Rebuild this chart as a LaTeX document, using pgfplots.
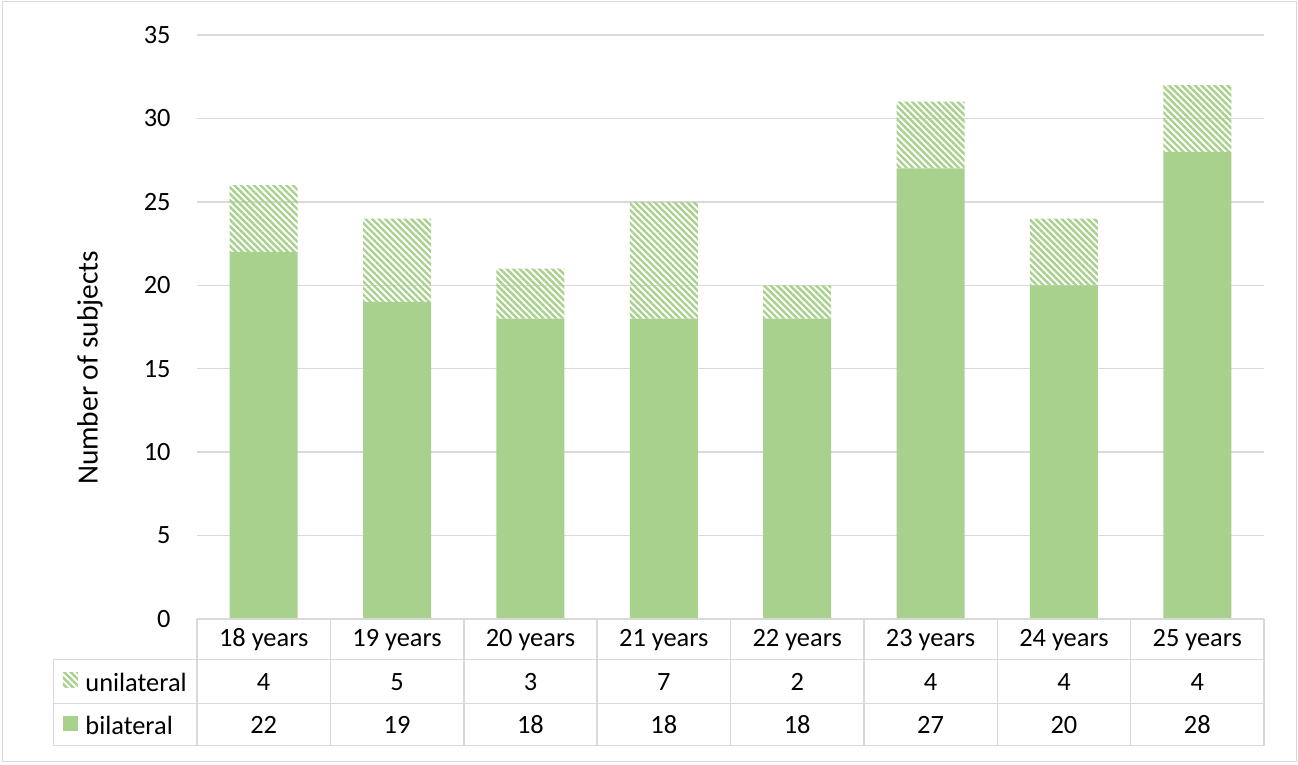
\documentclass[border=0pt]{standalone}
\usepackage{fontspec}
\setmainfont{Carlito}
\usepackage{pgfplots}
\pgfplotsset{compat=1.18}
\usetikzlibrary{patterns.meta}
\definecolor{barg}{HTML}{A9D18E}
\definecolor{gridc}{HTML}{D9D9D9}
\newcommand{\fs}{\fontsize{13.2bp}{16bp}\selectfont}
\begin{document}
\begin{tikzpicture}[x=0.5bp,y=0.5bp,font=\fs]
\begin{axis}[
  scale only axis,
  width=533.5bp, height=292bp,
  xmin=-0.5, xmax=7.5, ymin=0, ymax=35,
  ytick={0,5,...,35}, xtick=\empty,
  ymajorgrids, grid style={gridc, line width=0.75bp},
  axis line style={draw=none}, major tick length=0pt,
  yticklabel style={inner sep=0pt, xshift=-13bp, font=\fs},
  /pgf/number format/assume math mode=true,
  ybar stacked, bar width=34bp, clip=false,
]
\addplot[fill=barg, draw=none] coordinates {(0,22)(1,19)(2,18)(3,18)(4,18)(5,27)(6,20)(7,28)};
\addplot[draw=none, pattern={Lines[angle=-45,distance=2.3bp,line width=1.2bp]}, pattern color=barg] coordinates {(0,4)(1,5)(2,3)(3,7)(4,2)(5,4)(6,4)(7,4)};
\coordinate (O) at (axis cs:-0.5,0);
\end{axis}
\pgfresetboundingbox
\begin{scope}[shift={(O)}]
\begin{scope}[shift={(-197,-145)}]
\useasboundingbox (0,0) rectangle (1298,764);
\draw[gridc, line width=0.75bp] (2.5,2.3) rectangle (1296.5,762.3);
% data table
\begin{scope}[gridc, line width=0.75bp]
\draw (197,145.5) -- (1264,145.5);
\draw (53.3,104.7) -- (1264,104.7);
\draw (53.3,60.7) -- (1264,60.7);
\draw (53.3,18.3) -- (1264,18.3);
\draw (53.3,104.7) -- (53.3,18.3);
\foreach \k in {0,...,8} \draw ({197+133.375*\k},145.5) -- ({197+133.375*\k},18.3);
\end{scope}
\foreach \lab [count=\i from 0] in {18 years,19 years,20 years,21 years,22 years,23 years,24 years,25 years}
  \node at ({197+133.375*(\i+0.5)},124) {\lab};
\foreach \v [count=\i from 0] in {4,5,3,7,2,4,4,4}
  \node at ({197+133.375*(\i+0.5)},82) {\v};
\foreach \v [count=\i from 0] in {22,19,18,18,18,27,20,28}
  \node at ({197+133.375*(\i+0.5)},39) {\v};
% legend keys
\fill[pattern={Lines[angle=-45,distance=2.3bp,line width=1.2bp]}, pattern color=barg] (63,76.5) rectangle (78,91.5);
\fill[barg] (63,33.5) rectangle (78,48.5);
\node[anchor=west, inner sep=0pt] at (85,82) {unilateral};
\node[anchor=west, inner sep=0pt] at (85,39) {bilateral};
\node[rotate=90, font=\fontsize{14.7bp}{17bp}\selectfont] at (90,396) {Number of subjects};
\end{scope}
\end{scope}
\end{tikzpicture}
\end{document}
